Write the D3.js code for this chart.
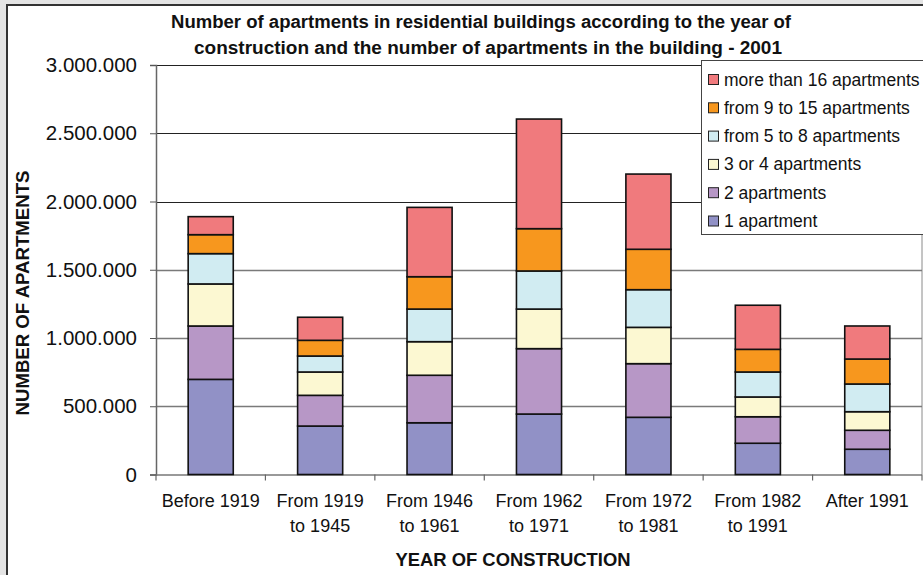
<!DOCTYPE html>
<html>
<head>
<meta charset="utf-8">
<script src="https://cdn.jsdelivr.net/npm/d3@7"></script>
<style>
  html, body { margin: 0; padding: 0; background: #e4e4e4; }
  svg { display: block; font-family: "Liberation Sans", Arial, sans-serif; }
</style>
</head>
<body>
<svg id="chart" width="923" height="575"></svg>
<script>
// Construction periods (two-line axis labels)
const periods = ["Before 1919", "From 1919 to 1945", "From 1946 to 1961", "From 1962 to 1971",
                 "From 1972 to 1981", "From 1982 to 1991", "After 1991"];
const periodLines = [["Before 1919"], ["From 1919", "to 1945"], ["From 1946", "to 1961"], ["From 1962", "to 1971"],
                     ["From 1972", "to 1981"], ["From 1982", "to 1991"], ["After 1991"]];

// Apartments by building size, per period
const oneApartment   = [697000, 355000, 379000, 443000, 419000, 229000, 185000];
const twoApartments  = [391000, 225000, 348000, 479000, 393000, 194000, 139000];
const threeOrFour    = [308000, 171000, 246000, 290000, 266000, 145000, 136000];
const fiveToEight    = [222000, 117000, 239000, 279000, 276000, 183000, 203000];
const nineToFifteen  = [139000, 115000, 237000, 310000, 296000, 166000, 183000];
const moreThanSixteen = [132000, 169000, 508000, 803000, 551000, 323000, 242000];

const seriesNames = ["1 apartment", "2 apartments", "3 or 4 apartments", "from 5 to 8 apartments",
                     "from 9 to 15 apartments", "more than 16 apartments"];
const seriesColors = ["#9191c6", "#b797c6", "#fcf8d2", "#d1ecf2", "#f7971e", "#f07a7d"];
const yTicks = [0, 500000, 1000000, 1500000, 2000000, 2500000, 3000000];

const seriesValues = [oneApartment, twoApartments, threeOrFour, fiveToEight, nineToFifteen, moreThanSixteen];
const rows = periods.map((p, i) => {
  const r = { period: p };
  seriesNames.forEach((s, k) => { r[s] = seriesValues[k][i]; });
  return r;
});

const svg = d3.select("#chart");
const fmt = d3.formatLocale({ decimal: ",", thousands: ".", grouping: [3], currency: ["", ""] }).format(",d");

// Chart frame
svg.append("rect").attr("x", 7).attr("y", 5).attr("width", 940).attr("height", 600)
  .attr("fill", "#fff").attr("stroke", "#333").attr("stroke-width", 2);

const plot = { left: 156, right: 922, top: 65, bottom: 474.5 };
const x = d3.scaleBand().domain(periods).range([plot.left, plot.right]).paddingInner(0.588).paddingOuter(0.294);
const y = d3.scaleLinear().domain([0, 3000000]).range([plot.bottom, plot.top]);

// Plot area right edge
svg.append("line").attr("x1", plot.right).attr("x2", plot.right)
  .attr("y1", plot.top).attr("y2", plot.bottom).attr("stroke", "#8a8a8a");

// Gridlines
svg.append("g").selectAll("line").data(yTicks.filter(d => d > 0)).join("line")
  .attr("x1", plot.left).attr("x2", plot.right)
  .attr("y1", d => Math.round(y(d)) + 0.5).attr("y2", d => Math.round(y(d)) + 0.5)
  .attr("stroke", d => d >= 2000000 ? "#222" : "#7a7a7a")
  .attr("stroke-width", d => d >= 2000000 ? 1 : 1.5);

// Y axis
const yAxis = svg.append("g").attr("transform", `translate(${plot.left},0)`)
  .call(d3.axisLeft(y).tickValues(yTicks).tickFormat(fmt).tickSize(6).tickPadding(13));
yAxis.select(".domain").attr("stroke", "#666").attr("stroke-width", 1.5);
yAxis.selectAll(".tick line").attr("stroke", "#555");
yAxis.selectAll(".tick text").attr("font-size", 20.5).attr("fill", "#111")
  .attr("font-family", "Liberation Sans, Arial, sans-serif");

// X axis with ticks between categories
const boundaries = d3.range(periods.length + 1).map(i => plot.left + i * x.step());
const xAxis = svg.append("g");
xAxis.append("line").attr("x1", plot.left).attr("x2", plot.right)
  .attr("y1", plot.bottom + 0.5).attr("y2", plot.bottom + 0.5).attr("stroke", "#777").attr("stroke-width", 1.5);
xAxis.selectAll("line.tk").data(boundaries).join("line").attr("class", "tk")
  .attr("x1", d => d).attr("x2", d => d).attr("y1", plot.bottom).attr("y2", plot.bottom + 6)
  .attr("stroke", "#666").attr("stroke-width", 1.2);
const labels = xAxis.selectAll("text").data(periods).join("text")
  .attr("x", d => x(d) + x.bandwidth() / 2).attr("y", 507)
  .attr("text-anchor", "middle").attr("font-size", 18).attr("fill", "#111");
labels.selectAll("tspan").data((d, i) => periodLines[i]).join("tspan")
  .attr("x", function () { return d3.select(this.parentNode).attr("x"); })
  .attr("dy", (d, i) => i === 0 ? 0 : 24.5).text(d => d);

// Stacked bars
const stack = d3.stack().keys(seriesNames)(rows);
svg.append("g").selectAll("g").data(stack).join("g")
  .attr("fill", (d, i) => seriesColors[i])
  .selectAll("rect").data(d => d).join("rect")
  .attr("x", d => x(d.data.period)).attr("width", x.bandwidth())
  .attr("y", d => y(d[1])).attr("height", d => y(d[0]) - y(d[1]))
  .attr("stroke", "#111").attr("stroke-width", 1.6);

// Title
const title = svg.append("text").attr("font-weight", "bold").attr("font-size", 17.5)
  .attr("text-anchor", "middle").attr("fill", "#111");
title.append("tspan").attr("x", 481).attr("y", 28)
  .attr("textLength", 620).attr("lengthAdjust", "spacingAndGlyphs")
  .text("Number of apartments in residential buildings according to the year of");
title.append("tspan").attr("x", 488).attr("y", 54)
  .attr("textLength", 588).attr("lengthAdjust", "spacingAndGlyphs")
  .text("construction and the number of apartments in the building - 2001");

// Axis titles
svg.append("text").attr("transform", `translate(29,293) rotate(-90)`)
  .attr("text-anchor", "middle").attr("font-weight", "bold").attr("font-size", 18.6).attr("fill", "#111")
  .text("NUMBER OF APARTMENTS");
svg.append("text").attr("x", 513).attr("y", 566)
  .attr("text-anchor", "middle").attr("font-weight", "bold").attr("font-size", 18.4).attr("fill", "#111")
  .text("YEAR OF CONSTRUCTION");

// Legend (top entry is the top series)
const legend = svg.append("g");
legend.append("rect").attr("x", 701.5).attr("y", 60.5).attr("width", 240).attr("height", 174)
  .attr("fill", "#fff").attr("stroke", "#444").attr("stroke-width", 1);
const legendItems = seriesNames.map((n, i) => ({ name: n, color: seriesColors[i] })).reverse();
const li = legend.selectAll("g.item").data(legendItems).join("g").attr("class", "item")
  .attr("transform", (d, i) => `translate(708,${79 + i * 28.3})`);
li.append("rect").attr("x", 0.5).attr("y", -4.5).attr("width", 10).attr("height", 10)
  .attr("fill", d => d.color).attr("stroke", "#222").attr("stroke-width", 1);
li.append("text").attr("x", 16).attr("y", 6.5).attr("font-size", 17.5).attr("fill", "#111").text(d => d.name);
</script>
</body>
</html>
